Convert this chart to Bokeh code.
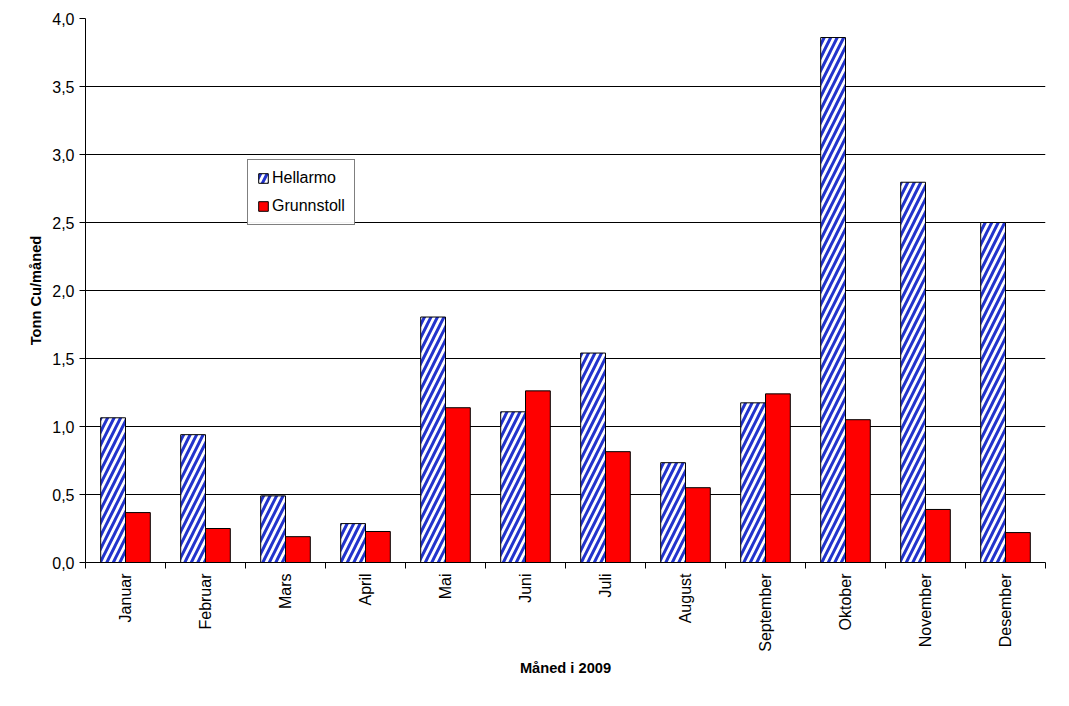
from bokeh.plotting import figure
from bokeh.models import FixedTicker, CustomJSTickFormatter, Legend, LegendItem, Range1d, ColumnDataSource
from bokeh.embed import file_html
from bokeh.resources import INLINE

months = ["Januar", "Februar", "Mars", "April", "Mai", "Juni", "Juli",
          "August", "September", "Oktober", "November", "Desember"]
hellarmo = [1.064, 0.94, 0.49, 0.286, 1.805, 1.108, 1.54, 0.734, 1.174, 3.86, 2.796, 2.50]
grunnstoll = [0.367, 0.25, 0.19, 0.228, 1.138, 1.262, 0.815, 0.55, 1.24, 1.05, 0.39, 0.22]
y_ticks = [0.0, 0.5, 1.0, 1.5, 2.0, 2.5, 3.0, 3.5, 4.0]

centers = [i + 0.5 for i in range(len(months))]
src = ColumnDataSource(dict(
    xh=[c - 0.155 for c in centers], xg=[c + 0.155 for c in centers],
    h=hellarmo, g=grunnstoll))

p = figure(width=1053, height=678, output_backend="svg", toolbar_location=None,
           x_range=Range1d(0, 12), y_range=Range1d(0, 4),
           min_border_left=85, min_border_right=8, min_border_top=18, min_border_bottom=10)
p.outline_line_color = None
p.background_fill_color = "white"

rh = p.vbar(x="xh", top="h", width=0.31, source=src, fill_color="white",
            hatch_pattern="/", hatch_color="#2233cc", hatch_weight=3, hatch_scale=13,
            line_color="black", line_width=1)
rg = p.vbar(x="xg", top="g", width=0.31, source=src, fill_color="#ff0000",
            line_color="black", line_width=1)

p.xaxis.ticker = FixedTicker(ticks=centers, minor_ticks=list(range(13)))
p.xaxis.major_label_overrides = {c: m for c, m in zip(centers, months)}
p.xaxis.major_tick_line_color = None
p.xaxis.minor_tick_in = 0
p.xaxis.minor_tick_out = 6
p.xaxis.minor_tick_line_color = "black"
p.xaxis.major_label_orientation = 1.5708
p.xaxis.axis_label = "Måned i 2009"

p.yaxis.ticker = FixedTicker(ticks=y_ticks)
p.yaxis.formatter = CustomJSTickFormatter(code="return tick.toFixed(1).replace('.', ',');")
p.yaxis.major_tick_in = 0
p.yaxis.major_tick_out = 6
p.yaxis.minor_tick_line_color = None
p.yaxis.axis_label = "Tonn Cu/måned"

for ax in (p.xaxis[0], p.yaxis[0]):
    ax.axis_line_color = "black"
    ax.major_label_text_font = "Liberation Sans"
    ax.major_label_text_font_size = "12pt"
    ax.major_label_text_color = "black"
    ax.axis_label_text_font = "Liberation Sans"
    ax.axis_label_text_font_size = "11pt"
    ax.axis_label_text_font_style = "bold"
    ax.axis_label_text_color = "black"

p.xgrid.grid_line_color = None
p.ygrid.grid_line_color = "black"
p.ygrid.grid_line_width = 1

legend = Legend(items=[LegendItem(label="Hellarmo", renderers=[rh]),
                       LegendItem(label="Grunnstoll", renderers=[rg])],
                location=(162, 337), border_line_color="black", border_line_width=1,
                label_text_font="Liberation Sans", label_text_font_size="12pt",
                label_text_color="black",
                glyph_width=12, glyph_height=12, spacing=10, padding=9, margin=0,
                label_standoff=3)
p.add_layout(legend)

open("out.html", "w").write(file_html(p, INLINE))
